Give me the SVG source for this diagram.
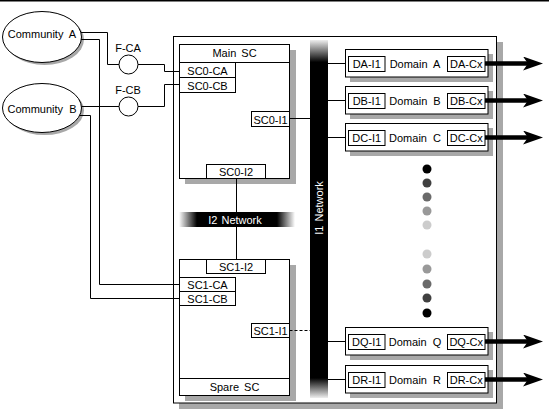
<svg xmlns="http://www.w3.org/2000/svg" width="549" height="416" viewBox="0 0 549 416">
<style>
.ln{stroke:#000;stroke-width:1;fill:none}
.dash{stroke:#000;stroke-width:1;fill:none;stroke-dasharray:3 2}
.box{fill:#fff;stroke:#000;stroke-width:1}
.sh{fill:#a8a8a8}
.t{font-family:"Liberation Sans",Arial,sans-serif;font-size:11px;fill:#000;text-anchor:middle}
.w{fill:#fff}
.arr{stroke:#000;stroke-width:4.5;fill:none;marker-end:url(#ah)}
</style>
<defs>
<marker id="ah" markerUnits="userSpaceOnUse" markerWidth="20" markerHeight="14" viewBox="0 0 20 14" refX="12" refY="7" orient="auto">
<path d="M0,0 L20,7 L0,14 L5,7 Z" fill="#000"/>
</marker>
<linearGradient id="gv" x1="0" y1="0" x2="0" y2="1">
<stop offset="0" stop-color="#eeeeee"/>
<stop offset="0.062" stop-color="#000"/>
<stop offset="0.944" stop-color="#000"/>
<stop offset="1" stop-color="#eeeeee"/>
</linearGradient>
<linearGradient id="gh" x1="0" y1="0" x2="1" y2="0">
<stop offset="0" stop-color="#ffffff"/>
<stop offset="0.155" stop-color="#000"/>
<stop offset="0.845" stop-color="#000"/>
<stop offset="1" stop-color="#ffffff"/>
</linearGradient>
</defs>
<rect x="0" y="0" width="549" height="1.5" fill="#000"/>

<g id="system">
<rect class="sh" x="179" y="42" width="324" height="367"/>
<rect class="box" x="173.5" y="36.5" width="323" height="366.5"/>
</g>

<g id="community-a">
<ellipse class="sh" cx="44.5" cy="39.5" rx="39.5" ry="25.5"/>
<ellipse class="box" cx="42" cy="37" rx="39.5" ry="25.5"/>
<text class="t" x="42" y="37.5" word-spacing="3">Community A</text>
</g>
<g id="community-b">
<ellipse class="sh" cx="44.5" cy="110.5" rx="39.5" ry="24.5"/>
<ellipse class="box" cx="42" cy="108" rx="39.5" ry="24.5"/>
<text class="t" x="42" y="112.5" word-spacing="3">Community B</text>
</g>

<g id="f-ca">
<circle class="box" cx="128.5" cy="64.5" r="9.5"/>
<text class="t" x="128" y="52">F-CA</text>
</g>
<g id="f-cb">
<circle class="box" cx="128.5" cy="106.5" r="9.5"/>
<text class="t" x="128" y="94">F-CB</text>
</g>

<g id="main-sc">
<rect class="sh" x="185" y="50" width="111" height="134"/>
<rect class="box" x="179.5" y="44.5" width="110" height="134"/>
<line class="ln" x1="179.5" y1="62.5" x2="289.5" y2="62.5"/>
<text class="t" x="234.5" y="57" word-spacing="2">Main SC</text>
<rect class="box" x="179.5" y="62.5" width="56" height="15"/>
<text class="t" x="207.5" y="74.5">SC0-CA</text>
<rect class="box" x="179.5" y="77.5" width="56" height="15"/>
<text class="t" x="207.5" y="89.5">SC0-CB</text>
<rect class="box" x="251.5" y="111.5" width="38" height="15"/>
<text class="t" x="270.5" y="123.5">SC0-I1</text>
<rect class="box" x="206.5" y="164.5" width="59" height="14"/>
<text class="t" x="236" y="175.5">SC0-I2</text>
</g>

<g id="spare-sc">
<rect class="sh" x="185" y="265" width="111" height="136"/>
<rect class="box" x="179.5" y="259.5" width="110" height="136"/>
<line class="ln" x1="179.5" y1="378.5" x2="289.5" y2="378.5"/>
<text class="t" x="234.5" y="391" word-spacing="2">Spare SC</text>
<rect class="box" x="206.5" y="259.5" width="59" height="14"/>
<text class="t" x="236" y="270.5">SC1-I2</text>
<rect class="box" x="179.5" y="277.5" width="56" height="14"/>
<text class="t" x="207.5" y="288.5">SC1-CA</text>
<rect class="box" x="179.5" y="291.5" width="56" height="14"/>
<text class="t" x="207.5" y="302.5">SC1-CB</text>
<rect class="box" x="251.5" y="323.5" width="38" height="14"/>
<text class="t" x="270.5" y="334.5">SC1-I1</text>
</g>

<g id="i2-network">
<rect x="179" y="212" width="116" height="15" fill="url(#gh)"/>
<text class="t w" x="235" y="223.5" word-spacing="1">I2 Network</text>
</g>

<g id="i1-network">
<rect x="310" y="40" width="18" height="358" fill="url(#gv)"/>
<text class="t w" transform="translate(323,208) rotate(-90)" x="0" y="0" word-spacing="1">I1 Network</text>
</g>

<g id="domain-a">
<rect class="sh" x="350" y="54" width="143" height="28"/>
<rect class="box" x="345.5" y="49.5" width="142.5" height="27.5"/>
<rect class="box" x="348.5" y="56.5" width="36.5" height="15"/>
<text class="t" x="366.7" y="68">DA-I1</text>
<text class="t" x="415" y="67.5" word-spacing="3">Domain A</text>
<rect class="box" x="447.5" y="56.5" width="37.5" height="15"/>
<text class="t" x="466.2" y="68">DA-Cx</text>
</g>
<g id="domain-b">
<rect class="sh" x="350" y="91" width="143" height="28"/>
<rect class="box" x="345.5" y="86.5" width="142.5" height="27.5"/>
<rect class="box" x="348.5" y="93.5" width="36.5" height="15"/>
<text class="t" x="366.7" y="105">DB-I1</text>
<text class="t" x="415" y="104.5" word-spacing="3">Domain B</text>
<rect class="box" x="447.5" y="93.5" width="37.5" height="15"/>
<text class="t" x="466.2" y="105">DB-Cx</text>
</g>
<g id="domain-c">
<rect class="sh" x="350" y="128" width="143" height="28"/>
<rect class="box" x="345.5" y="123.5" width="142.5" height="27.5"/>
<rect class="box" x="348.5" y="130.5" width="36.5" height="15"/>
<text class="t" x="366.7" y="142">DC-I1</text>
<text class="t" x="415" y="141.5" word-spacing="3">Domain C</text>
<rect class="box" x="447.5" y="130.5" width="37.5" height="15"/>
<text class="t" x="466.2" y="142">DC-Cx</text>
</g>
<g id="domain-q">
<rect class="sh" x="350" y="332" width="143" height="28"/>
<rect class="box" x="345.5" y="327.5" width="142.5" height="27.5"/>
<rect class="box" x="348.5" y="334.5" width="36.5" height="15"/>
<text class="t" x="366.7" y="346">DQ-I1</text>
<text class="t" x="415" y="345.5" word-spacing="3">Domain Q</text>
<rect class="box" x="447.5" y="334.5" width="37.5" height="15"/>
<text class="t" x="466.2" y="346">DQ-Cx</text>
</g>
<g id="domain-r">
<rect class="sh" x="350" y="370" width="143" height="28"/>
<rect class="box" x="345.5" y="365.5" width="142.5" height="27.5"/>
<rect class="box" x="348.5" y="372.5" width="36.5" height="15"/>
<text class="t" x="366.7" y="384">DR-I1</text>
<text class="t" x="415" y="383.5" word-spacing="3">Domain R</text>
<rect class="box" x="447.5" y="372.5" width="37.5" height="15"/>
<text class="t" x="466.2" y="384">DR-Cx</text>
</g>

<g id="ellipsis-dots">
<circle cx="427" cy="169" r="4.5" fill="#000"/>
<circle cx="427" cy="183" r="4.5" fill="#404040"/>
<circle cx="427" cy="197" r="4.5" fill="#6a6a6a"/>
<circle cx="427" cy="211" r="4.5" fill="#999999"/>
<circle cx="427" cy="225" r="4.5" fill="#cccccc"/>
<circle cx="427" cy="254" r="4.5" fill="#cccccc"/>
<circle cx="427" cy="269" r="4.5" fill="#999999"/>
<circle cx="427" cy="284" r="4.5" fill="#6a6a6a"/>
<circle cx="427" cy="298" r="4.5" fill="#404040"/>
<circle cx="427" cy="313" r="4.5" fill="#000"/>
</g>

<g id="connectors">
<path class="ln" d="M81,32.5 H107.5 V64.5 H119"/>
<path class="ln" d="M138,64.5 H164.5 V71.5 H179.5"/>
<path class="ln" d="M81,39.5 H99.5 V284.5 H179.5"/>
<path class="ln" d="M81.5,106.5 H119"/>
<path class="ln" d="M138,106.5 H164.5 V84.5 H179.5"/>
<path class="ln" d="M80,115.5 H90.5 V298.5 H179.5"/>
<path class="ln" d="M289.5,118.5 H310"/>
<path class="dash" d="M289.5,330.5 H310"/>
<path class="ln" d="M236.5,178.5 V212"/>
<path class="ln" d="M236.5,227 V259.5"/>
<path class="ln" d="M328,63.5 H345.5"/>
<path class="ln" d="M328,100.5 H345.5"/>
<path class="ln" d="M328,137.5 H345.5"/>
<path class="ln" d="M328,341.5 H345.5"/>
<path class="ln" d="M328,379.5 H345.5"/>
<path class="arr" d="M485,63.5 H535"/>
<path class="arr" d="M485,100.5 H535"/>
<path class="arr" d="M485,137.5 H535"/>
<path class="arr" d="M485,341.5 H535"/>
<path class="arr" d="M485,379.5 H535"/>
</g>
</svg>
